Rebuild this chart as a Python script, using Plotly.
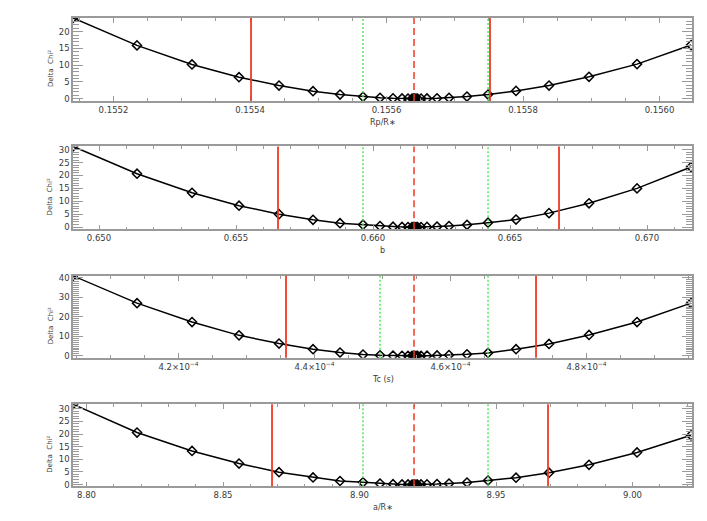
import plotly.graph_objects as go
from plotly.subplots import make_subplots


# Rp/R* scan
RP_X = [0.1551407, 0.1552344, 0.1553150, 0.1553839, 0.1554425, 0.1554923, 0.1555319,
        0.1555656, 0.1555905, 0.1556095, 0.1556227, 0.1556315, 0.1556374, 0.1556396,
        0.1556410, 0.1556432, 0.1556454, 0.1556506, 0.1556593, 0.1556740, 0.1556916,
        0.1557179, 0.1557487, 0.1557897, 0.1558381, 0.1558967, 0.1559670, 0.1560462]
RP_CHI = [24.1, 15.9, 10.2, 6.4, 3.9, 2.2, 1.2, 0.55, 0.25, 0.09, 0.03, 0.01, 0.0, 0.0,
          0.0, 0.0, 0.0, 0.01, 0.03, 0.1, 0.25, 0.6, 1.2, 2.3, 3.9, 6.5, 10.3, 16.0]
RP_BEST = 0.1556403
RP_1SIG = [0.1555656, 0.1557487]
RP_3SIG = [0.1554015, 0.1557516]

# impact parameter scan
B_X = [0.6490511, 0.6513869, 0.6533942, 0.6551095, 0.6565693, 0.6578102, 0.6587956,
       0.6596350, 0.6602555, 0.6607299, 0.6610584, 0.6612774, 0.6614234, 0.6614781,
       0.6615146, 0.6615693, 0.6616241, 0.6617518, 0.6619708, 0.6623358, 0.6627737,
       0.6634307, 0.6641971, 0.6652190, 0.6664234, 0.6678832, 0.6696350, 0.6716058]
B_CHI = [31.3, 20.7, 13.3, 8.3, 5.0, 2.8, 1.5, 0.9, 0.4, 0.15, 0.05, 0.02, 0.0, 0.0,
         0.0, 0.0, 0.0, 0.02, 0.06, 0.17, 0.4, 0.85, 1.7, 2.9, 5.4, 9.2, 15.0, 23.3]
B_BEST = 0.6614964
B_1SIG = [0.6596350, 0.6641971]
B_3SIG = [0.6565328, 0.6667883]

# mid-transit time scan
TC_X = [4.044853e-4, 4.138971e-4, 4.219853e-4, 4.288971e-4, 4.347794e-4, 4.397794e-4,
        4.437500e-4, 4.471324e-4, 4.496324e-4, 4.515441e-4, 4.528676e-4, 4.537500e-4,
        4.543382e-4, 4.545588e-4, 4.547059e-4, 4.549265e-4, 4.551471e-4, 4.556618e-4,
        4.565441e-4, 4.580147e-4, 4.597794e-4, 4.624265e-4, 4.655147e-4, 4.696324e-4,
        4.744853e-4, 4.803676e-4, 4.874265e-4, 4.953676e-4]
TC_CHI = [41.0, 27.0, 17.3, 10.5, 6.3, 3.4, 1.7, 0.65, 0.3, 0.12, 0.04, 0.01, 0.0, 0.0,
          0.0, 0.0, 0.0, 0.02, 0.07, 0.2, 0.4, 0.8, 1.5, 3.4, 6.1, 10.7, 17.3, 27.0]
TC_BEST = 4.546324e-4
TC_1SIG = [4.496324e-4, 4.655147e-4]
TC_3SIG = [4.358088e-4, 4.725735e-4]
TC_TICKS = [4.2e-4, 4.4e-4, 4.6e-4, 4.8e-4]
TC_TICKTEXT = ["4.2×10<sup>−4</sup>", "4.4×10<sup>−4</sup>",
               "4.6×10<sup>−4</sup>", "4.8×10<sup>−4</sup>"]

# a/R* scan
AR_X = [8.795055, 8.818498, 8.838645, 8.855861, 8.870513, 8.882967, 8.892857, 8.901282,
        8.907509, 8.912271, 8.915568, 8.917766, 8.919231, 8.919780, 8.920147, 8.920696,
        8.921245, 8.922527, 8.924725, 8.928388, 8.932784, 8.939377, 8.947070, 8.957326,
        8.969414, 8.984066, 9.001648, 9.021429]
AR_CHI = [31.8, 20.6, 13.3, 8.3, 4.9, 2.8, 1.4, 0.9, 0.4, 0.15, 0.05, 0.02, 0.0, 0.0,
          0.0, 0.0, 0.0, 0.02, 0.06, 0.17, 0.4, 0.8, 1.6, 2.7, 4.7, 7.8, 12.7, 19.5]
AR_BEST = 8.919963
AR_1SIG = [8.901282, 8.947070]
AR_3SIG = [8.867949, 8.969048]

RED = "#f03a24"
GREEN = "#48e848"
AXIS = "#9a9a9a"
TEXT = "#3a3a3a"
FONT = "DejaVu Sans"

panels = [
    dict(x=RP_X, y=RP_CHI, best=RP_BEST, one=RP_1SIG, three=RP_3SIG, title="Rp/R∗",
         xr=[0.1551407, 0.1560476], yr=[-0.7, 24.1], ydt=5,
         xt=dict(dtick=0.0002, tickformat=".4f", minor=0.00005)),
    dict(x=B_X, y=B_CHI, best=B_BEST, one=B_1SIG, three=B_3SIG, title="b",
         xr=[0.6490511, 0.6716423], yr=[-0.9, 31.3], ydt=5,
         xt=dict(dtick=0.005, tickformat=".3f", minor=0.001)),
    dict(x=TC_X, y=TC_CHI, best=TC_BEST, one=TC_1SIG, three=TC_3SIG, title="Tc (s)",
         xr=[4.044853e-4, 4.955147e-4], yr=[-1.0, 41.0], ydt=10,
         xt=dict(tickvals=TC_TICKS, ticktext=TC_TICKTEXT, minor=0.5e-5)),
    dict(x=AR_X, y=AR_CHI, best=AR_BEST, one=AR_1SIG, three=AR_3SIG, title="a/R∗",
         xr=[8.795055, 9.021795], yr=[-0.7, 31.8], ydt=5,
         xt=dict(dtick=0.05, tickformat=".2f", minor=0.01)),
]

# the page body adds an 8px margin, so the figure is 16px smaller than the window
ydomains = [[0.8198, 0.9861], [0.5624, 0.7287], [0.3050, 0.4693], [0.0475, 0.2119]]

fig = make_subplots(rows=4, cols=1)

for i, p in enumerate(panels, start=1):
    fig.add_trace(go.Scatter(
        x=p["x"], y=p["y"], mode="lines+markers",
        line=dict(color="black", width=1.5),
        marker=dict(symbol="diamond-open", size=7, color="black", line=dict(width=1.5)),
        showlegend=False,
    ), row=i, col=1)

    for v in p["three"]:
        fig.add_vline(x=v, line=dict(color=RED, width=1.8), row=i, col=1)
    for v in p["one"]:
        fig.add_vline(x=v, line=dict(color=GREEN, width=1.4, dash="2px,2px"), row=i, col=1)
    fig.add_vline(x=p["best"], line=dict(color=RED, width=1.5, dash="7px,4px"), row=i, col=1)

    xt = p["xt"]
    xkw = dict(range=p["xr"], domain=[0.0941, 0.9899], showgrid=False, zeroline=False,
               showline=True, linecolor=AXIS, linewidth=1.5, mirror="ticks",
               ticks="inside", ticklen=5, tickcolor=AXIS, ticklabelstandoff=0,
               tickfont=dict(family=FONT, size=8.5, color=TEXT),
               minor=dict(ticks="inside", ticklen=3, dtick=xt["minor"], tickcolor=AXIS))
    if "tickvals" in xt:
        xkw.update(tickmode="array", tickvals=xt["tickvals"], ticktext=xt["ticktext"])
    else:
        xkw.update(dtick=xt["dtick"], tickformat=xt["tickformat"])
    fig.update_xaxes(row=i, col=1, **xkw)

    fig.update_yaxes(row=i, col=1, range=p["yr"], domain=ydomains[i - 1], dtick=p["ydt"],
                     showgrid=False, zeroline=False, showline=True, linecolor=AXIS,
                     linewidth=1.5, mirror="ticks", ticks="inside", ticklen=10,
                     tickcolor=AXIS, tickfont=dict(family=FONT, size=8.5, color=TEXT),
                     minor=dict(ticks="inside", ticklen=6, dtick=1, tickcolor=AXIS))

    xref = "x domain" if i == 1 else f"x{i} domain"
    yref = "y domain" if i == 1 else f"y{i} domain"
    fig.add_annotation(text=p["title"], xref=xref, yref=yref, x=0.5, y=0,
                       yanchor="top", yshift=-15, showarrow=False,
                       font=dict(family=FONT, size=8, color=TEXT))
    fig.add_annotation(text="Delta  Chi²", xref="paper", yref=yref, x=0.0615, y=0.39,
                       xanchor="center", yanchor="middle", textangle=-90, showarrow=False,
                       font=dict(family=FONT, size=7, color=TEXT))

fig.update_layout(
    width=691, height=505,
    margin=dict(l=0, r=0, t=0, b=0),
    paper_bgcolor="white", plot_bgcolor="white",
    showlegend=False,
)

fig.write_html("out.html")
